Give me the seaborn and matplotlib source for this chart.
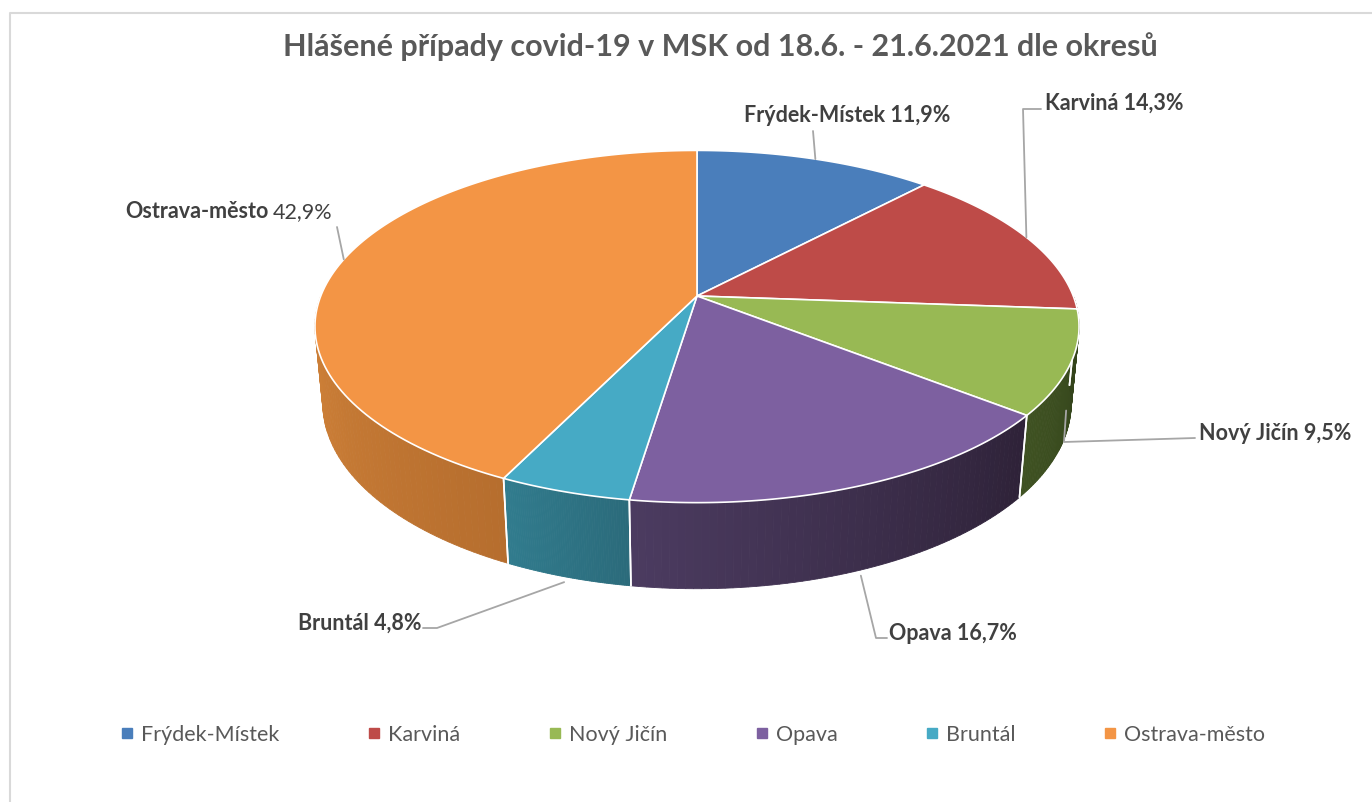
import numpy as np
import matplotlib.pyplot as plt
import matplotlib.colors as mcolors
from matplotlib.patches import Polygon
from matplotlib.lines import Line2D
import seaborn as sns

#%% data
TITLE = 'Hlášené případy covid-19 v MSK od 18.6. - 21.6.2021 dle okresů'
districts = ['Frýdek-Místek', 'Karviná', 'Nový Jičín', 'Opava', 'Bruntál', 'Ostrava-město']
cases = [5, 6, 4, 7, 2, 18]
pct_labels = ['11,9%', '14,3%', '9,5%', '16,7%', '4,8%', '42,9%']

top_colors = ['#4A7EBB', '#BE4B48', '#98B954', '#7D60A0', '#46AAC5', '#F39545']
# side wall gradient (left -> right)
wall_colors = [('#3A6494', '#2F5580'), ('#8E3836', '#7A2E2C'), ('#3F5222', '#33431B'),
               ('#4B3B60', '#2E2238'), ('#317C8E', '#2B6B7B'), ('#D3843A', '#B66E2E')]

#%% style
sns.set_theme(style='white')
plt.rcParams['font.family'] = ['Lato', 'DejaVu Sans']
TXT = '#404040'
GREY = '#595959'

# 3d pie camera (pixel space)
CX, CY = 697, 296
F, DIST, ELEV, THICK = 1934, 5.14, np.radians(27), 0.23


def project(theta_deg, z=0.0, r=1.0):
    th = np.radians(theta_deg)
    x = r * np.cos(th)
    y = r * np.sin(th)
    depth = DIST + y * np.cos(ELEV) - z * np.sin(ELEV)
    u = F * x / depth
    v = F * (y * np.sin(ELEV) + z * np.cos(ELEV)) / depth
    return CX + u, CY - v


fig = plt.figure(figsize=(13.72, 8.02), dpi=100)
ax = fig.add_axes([0, 0, 1, 1])
ax.set_xlim(0, 1372)
ax.set_ylim(802, 0)
ax.axis('off')

frac = np.array(cases) / np.sum(cases)
ends = 90 - np.cumsum(frac) * 360
starts = np.concatenate([[90], ends[:-1]])

# side walls (front half only: -180..0)
for i in range(len(cases)):
    lo, hi = max(ends[i], -180), min(starts[i], 0)
    if hi <= lo:
        continue
    th = np.linspace(lo, hi, 60)
    c_left, c_right = mcolors.to_rgb(wall_colors[i][0]), mcolors.to_rgb(wall_colors[i][1])
    for k in range(len(th) - 1):
        t = k / (len(th) - 2)
        col = tuple(np.array(c_left) * (1 - t) + np.array(c_right) * t)
        pts = [project(th[k]), project(th[k + 1]),
               project(th[k + 1], -THICK), project(th[k], -THICK)]
        ax.add_patch(Polygon(pts, closed=True, facecolor=col, edgecolor=col, lw=0.6, zorder=1))
    for a in (lo, hi):
        if -180 < a < 0:
            ax.plot(*zip(project(a), project(a, -THICK)), color='white', lw=1.2, zorder=2)

# top faces
for i in range(len(cases)):
    th = np.linspace(starts[i], ends[i], 120)
    pts = [project(0, r=0)] + [project(a) for a in th]
    ax.add_patch(Polygon(pts, closed=True, facecolor=top_colors[i], edgecolor='white',
                         lw=1.2, zorder=3))

# data labels with leader lines
mids = (starts + ends) / 2
leaders = [
    ([(813, 131)], project(mids[0], r=1.0)),
    ([(1041, 109), (1023, 109)], project(mids[1], r=1.0)),
    ([(1195, 438), (1064, 442)], project(mids[2], -THICK * 0.6, r=1.0)),
    ([(887, 638), (876, 638)], project(mids[3], -THICK, r=1.02)),
    ([(423, 628), (437, 628)], project(mids[4], -THICK, r=1.02)),
    ([(337, 227)], project(mids[5], r=1.0)),
]
for pts, end in leaders:
    xs = [p[0] for p in pts] + [end[0]]
    ys = [p[1] for p in pts] + [end[1]]
    ax.plot(xs, ys, color='#A6A6A6', lw=1.3, zorder=4)

FS = 15.5
lab_kw = dict(color=TXT, fontsize=FS, fontweight='bold', zorder=5)
ax.text(847, 116, f'{districts[0]} {pct_labels[0]}', ha='center', va='center', **lab_kw)
ax.text(1045, 103, f'{districts[1]} {pct_labels[1]}', ha='left', va='center', **lab_kw)
ax.text(1199, 434, f'{districts[2]} {pct_labels[2]}', ha='left', va='center', **lab_kw)
ax.text(889, 633, f'{districts[3]} {pct_labels[3]}', ha='left', va='center', **lab_kw)
ax.text(421, 623, f'{districts[4]} {pct_labels[4]}', ha='right', va='center', **lab_kw)
ax.text(269, 212, districts[5], ha='right', va='center', **lab_kw)
ax.text(273, 212, pct_labels[5], ha='left', va='center', color=TXT, fontsize=FS, zorder=5)

ax.text(720, 47, TITLE, ha='center', va='center', color=GREY, fontsize=22, fontweight='bold')

# legend
handles = [Line2D([], [], marker='s', linestyle='', markersize=6.5, color=c) for c in top_colors]
leg = fig.legend(handles, districts, loc='center', bbox_to_anchor=(0.505, 1 - 735 / 802),
                 ncol=6, frameon=False, fontsize=15.5, handlelength=0.6, handletextpad=0.35,
                 columnspacing=4.1)
for t in leg.get_texts():
    t.set_color(GREY)

# chart frame
ax.plot([10, 10, 1372], [802, 13, 13], color='#D9D9D9', lw=1.5, zorder=0)

fig.savefig('out.png', dpi=100)
